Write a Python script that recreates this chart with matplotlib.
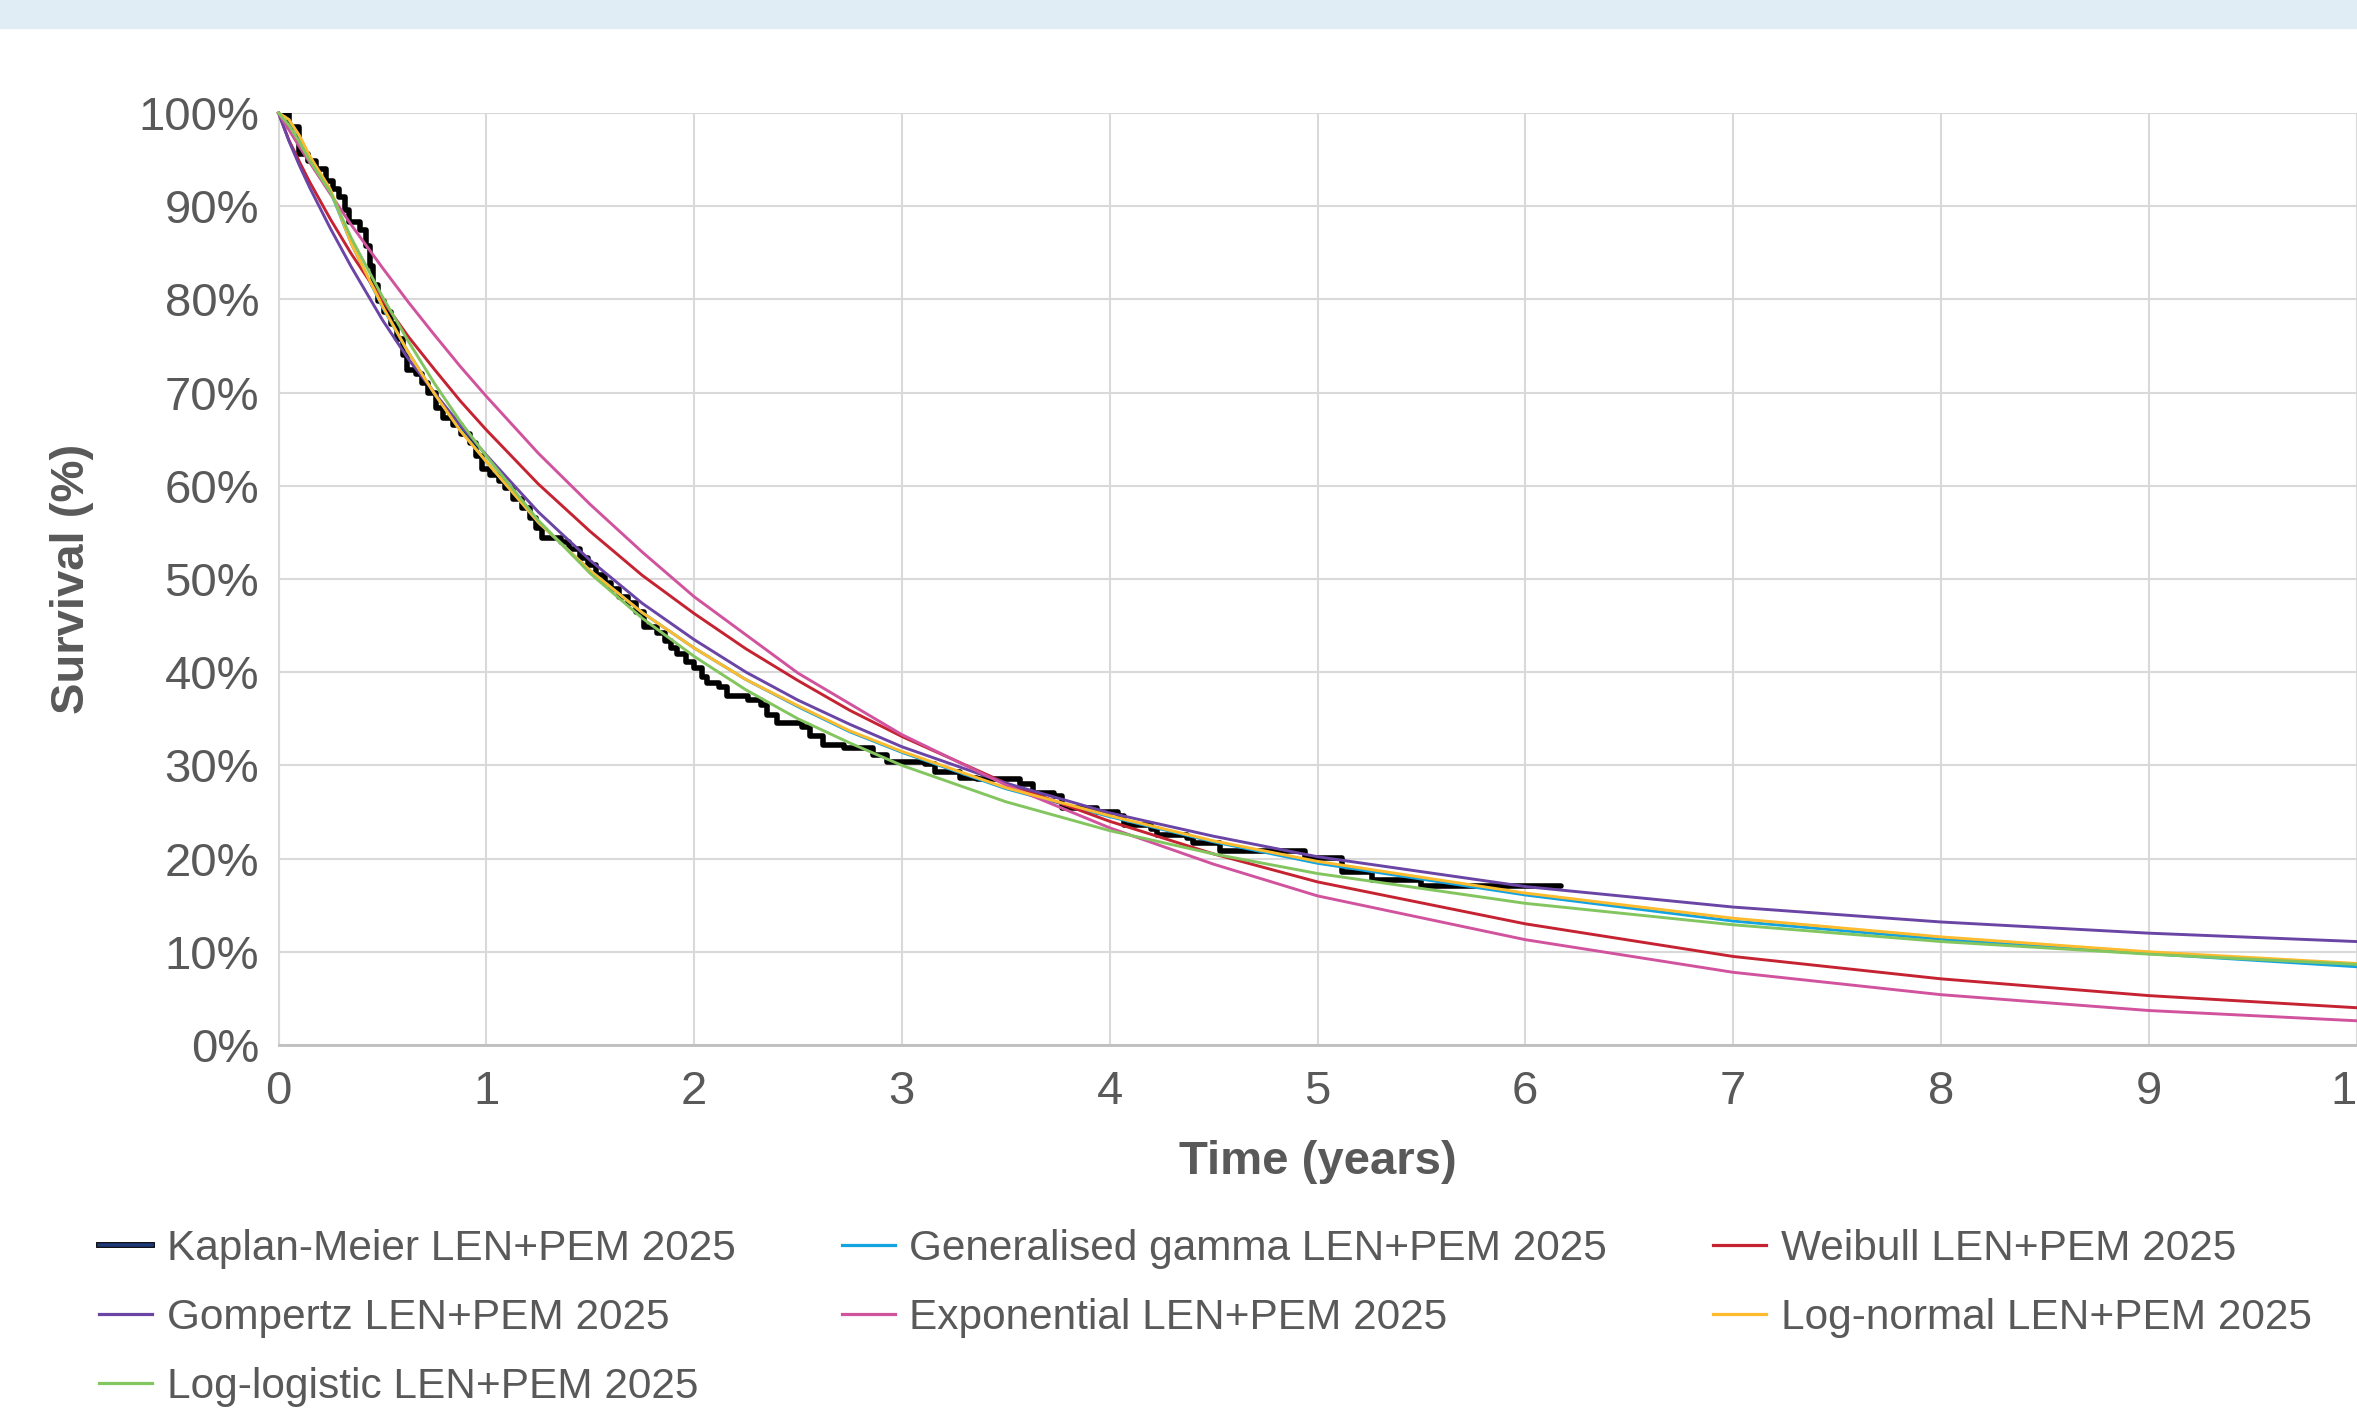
import matplotlib
matplotlib.use('Agg')
import matplotlib.pyplot as plt
from matplotlib.lines import Line2D
from matplotlib.patches import Rectangle
import matplotlib.patheffects as pe

plt.rcParams['font.family'] = ['Liberation Sans', 'DejaVu Sans']

# Kaplan-Meier steps (start of each level, survival %)
km_time = [0, 0.05, 0.10, 0.14, 0.18, 0.23, 0.26, 0.29, 0.32, 0.34, 0.39, 0.42, 0.44, 0.455, 0.48,
           0.51, 0.54, 0.57, 0.60, 0.62, 0.66, 0.69, 0.72, 0.76, 0.79, 0.84, 0.88, 0.92, 0.95, 0.98,
           1.02, 1.06, 1.09, 1.13, 1.17, 1.21, 1.24, 1.27, 1.36, 1.40, 1.45, 1.49, 1.53, 1.57, 1.60,
           1.64, 1.68, 1.72, 1.76, 1.82, 1.86, 1.89, 1.92, 1.96, 2.00, 2.04, 2.06, 2.12, 2.16, 2.26,
           2.32, 2.35, 2.40, 2.52, 2.56, 2.62, 2.72, 2.86, 2.93, 3.11, 3.16, 3.28, 3.36, 3.57, 3.63,
           3.73, 3.77, 3.94, 4.04, 4.07, 4.20, 4.23, 4.37, 4.40, 4.53, 4.94, 5.12, 5.26, 5.50, 6.17]
km_surv = [100, 98.5, 95.6, 94.8, 94.0, 92.7, 91.8, 91.0, 89.6, 88.3, 87.5, 85.7, 83.6, 81.5, 79.8,
           78.6, 77.4, 75.8, 74.0, 72.4, 72.0, 71.0, 70.0, 68.4, 67.3, 66.5, 65.6, 64.6, 63.2, 61.8,
           61.2, 60.5, 59.8, 58.6, 57.6, 56.5, 55.5, 54.4, 54.0, 53.2, 52.3, 51.5, 50.4, 49.6, 48.9,
           48.1, 47.4, 46.5, 44.9, 44.2, 43.3, 42.6, 41.9, 41.1, 40.4, 39.5, 38.8, 38.4, 37.5, 37.0,
           36.5, 35.4, 34.5, 34.1, 33.2, 32.2, 31.9, 31.1, 30.4, 30.1, 29.3, 28.7, 28.5, 28.0, 27.0,
           26.7, 25.4, 25.0, 24.6, 23.6, 23.2, 22.5, 22.2, 21.7, 20.8, 20.1, 18.6, 17.7, 17.1, 17.1]

# fitted curves, read at these times
fit_time = [0, 0.05, 0.1, 0.15, 0.25, 0.35, 0.5, 0.625, 0.75, 0.875, 1.0, 1.25, 1.5, 1.75,
            2.0, 2.25, 2.5, 2.75, 3.0, 3.5, 4.0, 4.5, 5.0, 6.0, 7.0, 8.0, 9.0, 10.0]
gen_gamma = [100, 99.3, 97.5, 95.3, 91.6, 86.0, 79.2, 74.3, 69.9, 66.0, 62.6, 56.1, 50.9, 46.4,
             42.6, 39.2, 36.3, 33.6, 31.4, 27.5, 24.5, 21.8, 19.5, 16.1, 13.3, 11.35, 9.8, 8.4]
weibull = [100, 97.1, 94.8, 92.6, 88.6, 84.9, 79.9, 76.0, 72.5, 69.1, 66.0, 60.2, 55.1, 50.4,
           46.3, 42.5, 39.1, 35.9, 33.1, 28.1, 24.0, 20.5, 17.5, 13.0, 9.5, 7.1, 5.3, 4.0]
gompertz = [100, 97.0, 94.4, 92.0, 87.6, 83.5, 77.8, 73.6, 70.0, 66.5, 63.3, 57.2, 52.0, 47.4,
            43.5, 40.0, 37.0, 34.4, 32.0, 28.1, 24.9, 22.4, 20.2, 17.0, 14.8, 13.2, 12.0, 11.1]
exponential = [100, 98.2, 96.4, 94.7, 91.3, 88.0, 83.4, 79.7, 76.2, 72.8, 69.6, 63.5, 58.0, 52.9,
               48.1, 44.0, 39.9, 36.6, 33.3, 27.9, 23.3, 19.4, 16.0, 11.3, 7.8, 5.4, 3.7, 2.6]
log_normal = [100, 99.3, 97.6, 95.4, 91.8, 86.0, 79.3, 74.3, 69.9, 65.9, 62.6, 56.1, 50.9, 46.4,
              42.6, 39.2, 36.4, 33.7, 31.5, 27.6, 24.6, 21.9, 19.7, 16.3, 13.6, 11.6, 10.0, 8.75]
log_logistic = [100, 98.7, 96.9, 94.9, 91.5, 86.6, 80.3, 75.5, 71.0, 66.9, 63.2, 56.3, 50.6, 45.8,
                41.7, 38.1, 35.0, 32.4, 30.0, 26.1, 23.0, 20.5, 18.4, 15.2, 12.9, 11.1, 9.75, 8.65]

labels = ['Kaplan-Meier LEN+PEM 2025', 'Generalised gamma LEN+PEM 2025', 'Weibull LEN+PEM 2025',
          'Gompertz LEN+PEM 2025', 'Exponential LEN+PEM 2025', 'Log-normal LEN+PEM 2025',
          'Log-logistic LEN+PEM 2025']
colors = ['#1F3A78', '#12A3E0', '#C62332', '#6A45A5', '#D1539E', '#FDBB2D', '#83C55E']
fits = [gen_gamma, weibull, gompertz, exponential, log_normal, log_logistic]

TXT = '#595959'
W, H = 2357, 1413
fig = plt.figure(figsize=(W / 100, H / 100), dpi=100)
fig.patches.append(Rectangle((0, 1 - 28 / H), 1, 28 / H, transform=fig.transFigure,
                             color='#E1EDF5', zorder=0))

ax = fig.add_axes([278.5 / W, (H - 1045) / H, 2078 / W, 932 / H])

ax.plot(km_time, km_surv, drawstyle='steps-post', color='black', lw=4.0,
        solid_capstyle='round', solid_joinstyle='round', zorder=3)
for vals, c in zip(fits, colors[1:]):
    ax.plot(fit_time, vals, color=c, lw=2.1, zorder=3, clip_on=False,
            solid_joinstyle='round')

ax.set_xlim(0, 10)
ax.set_ylim(0, 100)
ax.set_xticks(range(11))
ax.set_yticks(range(0, 101, 10))
ax.set_yticklabels([f'{v}%' for v in range(0, 101, 10)])
ax.tick_params(length=0, labelsize=34, colors=TXT)
ax.tick_params(axis='x', pad=18)
ax.tick_params(axis='y', pad=14)
ax.grid(color='#D9D9D9', lw=1.5)
ax.set_axisbelow(True)
for s in ['top', 'right']:
    ax.spines[s].set_visible(False)
ax.spines['left'].set_color('#D9D9D9')
ax.spines['left'].set_linewidth(1.5)
ax.spines['bottom'].set_color('#BFBFBF')
ax.spines['bottom'].set_linewidth(2)

fig.text(1317.5 / W, 1 - 1162 / H, 'Time (years)', ha='center', va='center',
         fontsize=34, fontweight='bold', color=TXT)
fig.text(72 / W, 1 - 579 / H, 'Survival (%)', ha='center', va='center', rotation=90,
         fontsize=34, fontweight='bold', color=TXT)

# legend handles, KM handle drawn navy with black edge
handles = [Line2D([], [], color=colors[0], lw=2.6,
                  path_effects=[pe.Stroke(linewidth=4.2, foreground='black'), pe.Normal()])]
handles += [Line2D([], [], color=c, lw=2.3) for c in colors[1:]]
order = [0, 3, 6, 1, 4, 2, 5]
fig.legend([handles[i] for i in order], [labels[i] for i in order], ncol=3,
           loc='upper left', bbox_to_anchor=(99 / W, 1 - 1229 / H), frameon=False,
           fontsize=30.5, handlelength=1.25, handletextpad=0.35, columnspacing=2.5,
           labelspacing=0.68, borderpad=0, borderaxespad=0, labelcolor=TXT)

fig.savefig('out.png', dpi=100)
